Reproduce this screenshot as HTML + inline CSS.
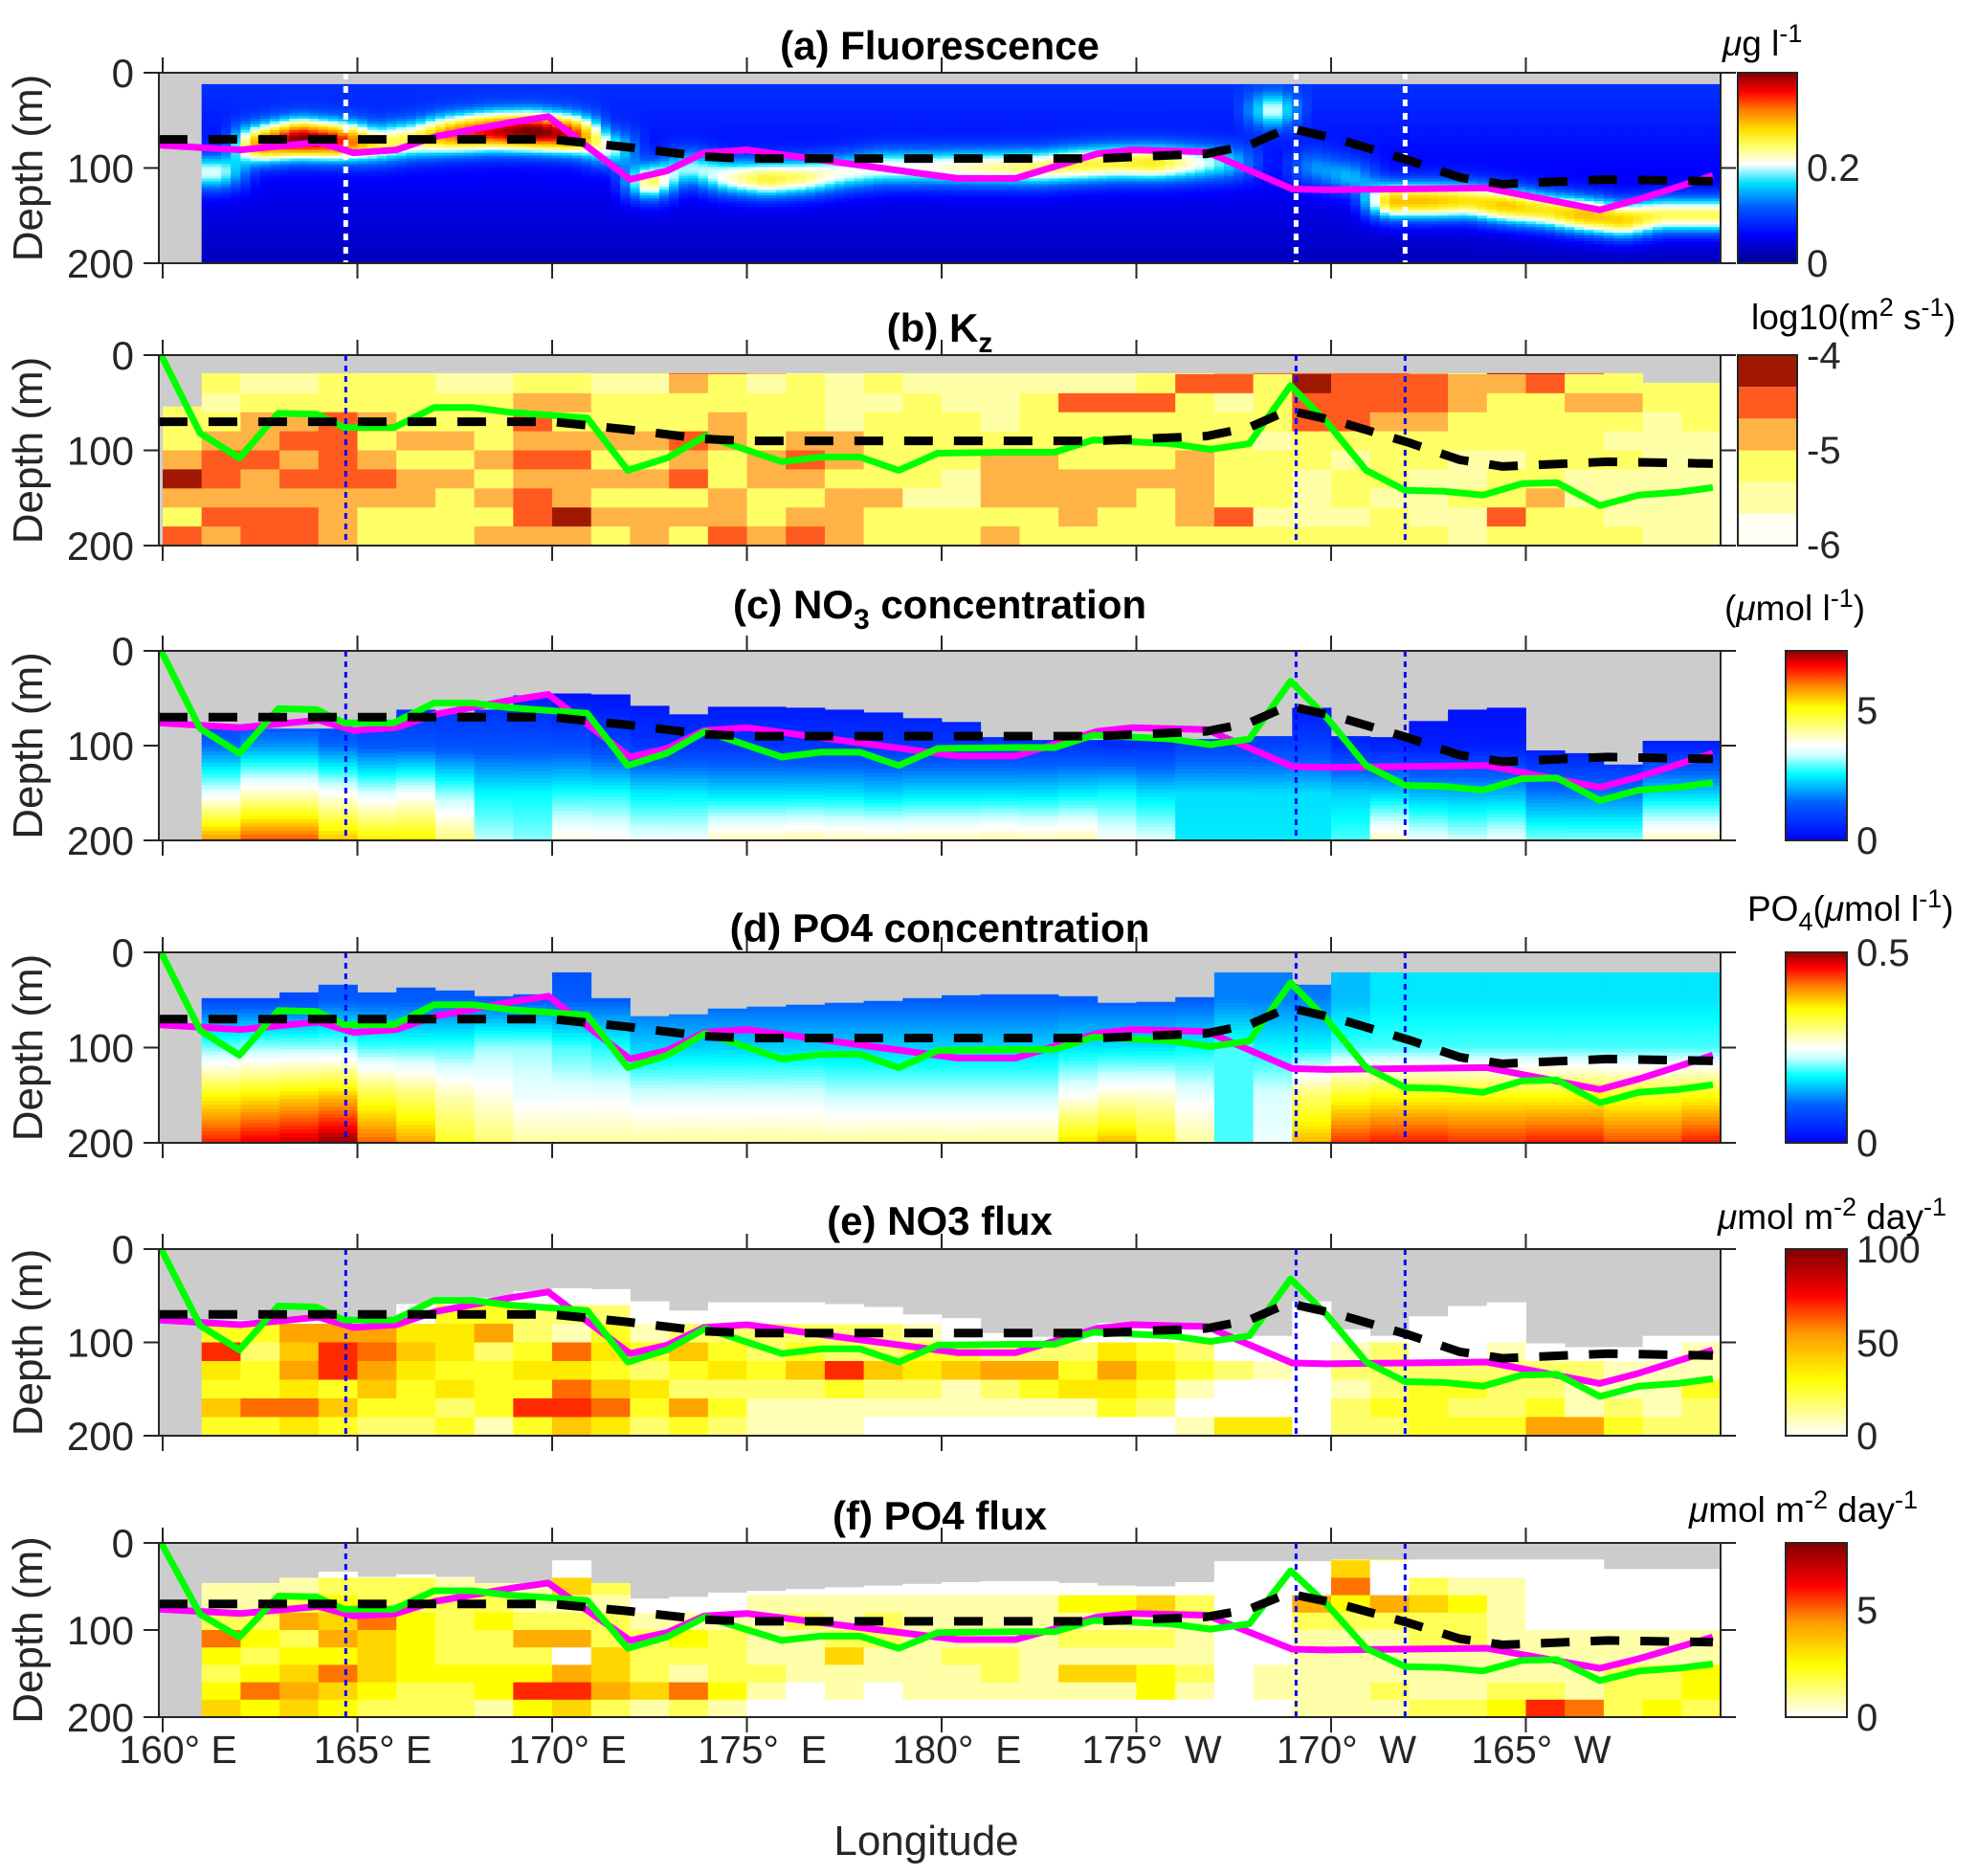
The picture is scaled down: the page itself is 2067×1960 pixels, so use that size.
<!DOCTYPE html>
<html><head><meta charset="utf-8"><style>
html,body{margin:0;padding:0;background:#fff}
svg{display:block;font-family:"Liberation Sans",Arial,sans-serif}
</style></head><body>
<svg id="fig" width="2067" height="1960" viewBox="0 0 2067 1960" xmlns="http://www.w3.org/2000/svg"></svg>
<script>
// ---------- data ----------
const xTickLons=[160,165,170,175,180,185,190,195];
const xTickLabels=["160° E","165° E","170° E","175°  E","180°  E","175°  W","170°  W","165°  W"];
const yTickDepths=[0,100,200];
const dottedLons=[164.7,189.1,191.9];
// green line
const greenLon=[159.96,160.96,161.97,162.97,163.95,164.65,165.94,166.97,167.95,168.9,169.93,170.9,171.94,172.95,173.93,175.9,176.9,177.9,178.9,179.9,181.9,182.9,183.9,185.9,186.9,187.9,188.96,189.9,190.9,191.9,192.9,193.9,194.9,195.8,196.9,197.9,198.9,199.8];
const greenDep=[0,82,108,61,62,76,76,55,55,60,63,66,121,108,85,112,107,107,121,103,102,102,89,93,99,93,32,71,121,142,143,147,135,134,158,147,144,139];
// magenta line
const magLon=[159.9,162,164,164.9,166,167,168.95,169.9,172,172.95,173.9,175,180.4,181.9,184,184.9,186.8,189,189.9,194,196.9,197.9,199.8];
const magDep=[76,81,73,84,81,67,52,46,112,103,84,81,111,111,85,81,83,122,123,121,144,133,108];
// black dashed line
const dashLon=[159.9,170,171.9,173.9,175,184,186.8,187.9,188.9,190.2,192,193.3,194.4,197.1,199.8];
const dashDep=[70,70,78,88,90,90,85,76,58,70,92,110,117,112,114];

// (a) fluorescence: per column 0..39 (lon 160+i)
const fluDcm=[0,105,75,70,72,75,70,65,62,62,65,80,115,100,110,112,110,105,100,100,100,100,100,97,95,95,95,95,40,100,110,135,135,135,140,145,150,155,150,150];
const fluPeak=[0,0.14,0.26,0.34,0.3,0.18,0.18,0.26,0.3,0.34,0.3,0.14,0.2,0.13,0.16,0.2,0.18,0.15,0.15,0.15,0.16,0.17,0.18,0.19,0.19,0.2,0.15,0.1,0.13,0.08,0.1,0.24,0.24,0.22,0.24,0.22,0.25,0.24,0.2,0.2];

// (b) Kz: grey-top depth and level codes per 20 m bin (0 white .. 5 dark red)
const kzTop=[54,19,19,19,19,19,19,19,19,19,19,19,19,19,19,19,19,19,19,19,19,19,19,19,19,19,19,19,19,19,19,19,19,19,19,19,19,19,29,29];
const kzLevels=["2222235324","2212344343","2123343344","2123434344","2224444333","1223234322","1222323322","1122323222","1122232323","1234343443","1232343353","2122323232","2122323233","4322434232","4223322334","3122233223","1222343234","1111332333","1212222322","1122222122","1112221122","1111233323","1122233322","1142223332","1142223322","1242223222","2422233332","3412222242","4222122212","4544221112","4444212212","4443222122","3443221112","2332211211","5322212242","5422222322","4232221122","2232121112","1221111111","1222111111"];

// (c) NO3: grey-top depth and values at 0,50,100,150,200 m
const no3Top=[200,82,82,82,82,84,62,65,62,47,45,46,58,67,59,59,60,62,65,71,75,91,94,94,94,94,93,93,90,60,90,91,74,62,60,105,108,120,95,95];
const no3Prof=[[0,0,0,0,0],[0.5,0.5,1.5,3.4,5.8],[0.5,0.5,1.8,3.9,6.2],[0.5,0.5,1.8,3.9,6.2],[0.5,0.5,1.5,3.6,5.5],[0.5,0.5,1.3,3.3,5.2],[0.5,0.6,1.3,3.5,5.2],[0.5,0.6,1.2,3.0,4.4],[0.5,0.6,1.2,2.5,3.2],[0.2,0.5,1.2,2.5,3.0],[0.2,0.3,1.2,2.6,3.8],[0.2,0.3,1.0,2.6,3.7],[0.2,0.3,0.8,2.4,3.5],[0.2,0.3,0.8,2.4,3.5],[0.2,0.3,0.8,2.3,4.0],[0.2,0.3,0.8,2.3,4.0],[0.2,0.3,0.8,2.3,4.1],[0.2,0.3,0.8,2.3,4.0],[0.2,0.3,0.8,2.2,4.0],[0.2,0.3,0.8,2.3,4.0],[0.2,0.3,0.8,2.3,4.0],[0.2,0.3,0.8,2.3,4.1],[0.2,0.3,0.8,2.3,4.0],[0.2,0.3,0.8,2.4,4.1],[0.2,0.2,0.7,2.5,3.6],[0.2,0.2,0.7,2.3,3.4],[0.2,0.2,1.0,2.3,2.4],[0.2,0.2,1.0,2.3,2.4],[0.2,0.2,1.0,2.3,2.4],[0.2,0.2,1.0,2.3,2.4],[0.2,0.2,0.6,2.2,2.8],[0.2,0.2,0.5,2.2,4.0],[0.2,0.2,0.4,2.0,3.5],[0.2,0.2,0.4,2.0,3.3],[0.2,0.2,0.4,2.0,3.5],[0.2,0.2,0.3,1.6,3.0],[0.2,0.2,0.3,1.6,3.0],[0.2,0.2,0.3,1.6,3.0],[0.2,0.2,0.5,2.2,4.0],[0.2,0.2,0.5,2.2,4.0]];

// (d) PO4
const po4Top=[200,48,48,42,34,42,37,40,46,44,21,48,67,65,59,57,55,53,51,48,45,44,44,46,53,52,47,21,21,34,21,21,21,21,21,21,21,21,21,21];
const po4Prof=[[0,0,0,0,0],[0.08,0.08,0.21,0.36,0.47],[0.08,0.08,0.22,0.37,0.49],[0.08,0.08,0.22,0.38,0.5],[0.08,0.1,0.22,0.39,0.52],[0.08,0.1,0.2,0.34,0.44],[0.08,0.1,0.2,0.32,0.41],[0.08,0.1,0.2,0.29,0.35],[0.08,0.1,0.22,0.27,0.32],[0.08,0.1,0.22,0.25,0.3],[0.08,0.1,0.2,0.25,0.3],[0.08,0.1,0.19,0.25,0.3],[0.1,0.1,0.16,0.24,0.3],[0.1,0.1,0.16,0.24,0.3],[0.1,0.1,0.16,0.24,0.3],[0.1,0.1,0.16,0.24,0.3],[0.1,0.1,0.16,0.24,0.3],[0.1,0.1,0.16,0.23,0.3],[0.1,0.1,0.16,0.23,0.3],[0.1,0.1,0.16,0.23,0.3],[0.1,0.1,0.16,0.23,0.3],[0.1,0.1,0.16,0.23,0.3],[0.1,0.1,0.16,0.23,0.3],[0.1,0.1,0.17,0.26,0.38],[0.1,0.1,0.17,0.28,0.4],[0.1,0.1,0.17,0.28,0.36],[0.1,0.1,0.18,0.25,0.3],[0.12,0.12,0.2,0.2,0.2],[0.12,0.12,0.18,0.24,0.25],[0.1,0.12,0.18,0.32,0.4],[0.15,0.15,0.2,0.35,0.46],[0.17,0.17,0.2,0.36,0.47],[0.17,0.17,0.2,0.36,0.47],[0.17,0.17,0.2,0.36,0.46],[0.17,0.17,0.2,0.36,0.46],[0.17,0.17,0.2,0.36,0.47],[0.17,0.17,0.2,0.36,0.47],[0.17,0.17,0.2,0.35,0.45],[0.17,0.17,0.2,0.35,0.45],[0.17,0.17,0.2,0.36,0.47]];

// (e) NO3 flux: grey top + 0-9 codes per 20 m bin
const no3fTop=[200,76,76,76,76,79,59,59,52,45,42,43,56,66,57,57,57,59,62,70,74,90,94,92,79,84,84,91,93,56,86,93,72,61,57,101,105,105,93,93];
const no3fLevels=["0000000000","0000384353","0000323373","0000656474","0000688353","0000676532","0000454332","0003443423","0003623331","0002234383","0002174785","0002343574","0000132432","0000253263","0000234232","0000223211","0000235211","0000228311","0000225210","0000134210","0000035110","0000026210","0000026310","0000023410","0000046430","0000034320","0000023101","0000002004","0000001004","0000000000","0000012122","0000022232","0000002333","0000002323","0000012223","0000002236","0000002116","0000001123","0000001112","0000011322"];

// (f) PO4 flux
const po4fTop=[200,46,46,40,33,39,36,39,46,46,20,46,64,62,57,55,53,51,49,47,45,44,44,46,49,50,45,21,21,21,19,19,19,19,19,19,19,30,30,30];
const po4fLevels=["0000000000","0011263234","0011232363","0012523454","0023453643","0022644432","0022333322","0012222322","0012322331","0011252373","0041250574","0021224452","0000122241","0000132162","0000122231","0001111210","0001211100","0001124110","0001221100","0001111110","0001112110","0001112210","0001111110","0003121410","0003121410","0004121330","0002111210","0000000000","1000000110","0005211111","2463211111","3005211121","0024221112","0013221112","0011111123","0000011127","0000011116","0000011222","0000011223","0000011332"];

// ---------- helpers ----------
const NS="http://www.w3.org/2000/svg";
const svg=document.getElementById('fig');
function mk(tag,attrs,parent){const e=document.createElementNS(NS,tag);for(const k in attrs)e.setAttribute(k,attrs[k]);(parent||svg).appendChild(e);return e;}
const X0=166,X1=1798;
function X(lon){return 170+(lon-160)*40.7;}
const panels=[{top:76,h:199},{top:371,h:199},{top:680,h:198},{top:995,h:199},{top:1305,h:195},{top:1612,h:182}];
function Y(p,d){return p.top+d/200*p.h;}
function hex(c){return [parseInt(c.substr(1,2),16),parseInt(c.substr(3,2),16),parseInt(c.substr(5,2),16)];}
function cmap(stops,t){t=Math.max(0,Math.min(1,t));for(let i=1;i<stops.length;i++){if(t<=stops[i][0]){const a=stops[i-1],b=stops[i];const f=(t-a[0])/(b[0]-a[0]||1);const ca=hex(a[1]),cb=hex(b[1]);return 'rgb('+ca.map((v,k)=>Math.round(v+(cb[k]-v)*f)).join(',')+')';}}return stops[stops.length-1][1];}
const mapA=[[0,'#00008f'],[0.15,'#0000ff'],[0.3,'#0060ff'],[0.42,'#00e0ff'],[0.48,'#c0ffff'],[0.52,'#ffffff'],[0.6,'#ffff60'],[0.68,'#ffe000'],[0.8,'#ff8000'],[0.9,'#ff0000'],[1,'#800000']];
const mapCD=[[0,'#0000ff'],[0.2,'#0060ff'],[0.35,'#00ffff'],[0.45,'#d0ffff'],[0.5,'#ffffff'],[0.6,'#ffff80'],[0.7,'#ffff00'],[0.82,'#ff8000'],[0.92,'#ff0000'],[1,'#900000']];
const mapHot=[[0,'#ffffff'],[0.3,'#ffff00'],[0.55,'#ff9900'],[0.75,'#ff0000'],[1,'#800000']];
const kzColors=['#fffff4','#ffffa8','#ffff66','#ffb347','#ff5a1f','#a01800'];
function colX(i){return [Math.max(X0,X(160+i)),Math.min(X1,X(161+i))];}

function drawPanel(idx,name,fill){
  const p=panels[idx];
  const g=mk('g',{});
  
  
  const bg=mk('rect',{x:X0,y:p.top,width:X1-X0,height:p.h,fill:'#cccccc'},g);
  
  
  const hm=mk('g',{},g);
  
  
  fill(p,hm);
  return g;
}
function cell(g,x0,x1,y0,y1,c){mk('rect',{x:x0.toFixed(1),y:y0.toFixed(1),width:(x1-x0+0.4).toFixed(1),height:(y1-y0+0.4).toFixed(1),fill:c},g);}

// (a)
drawPanel(0,'fluorescence',function(p,g){
  const sub=4;
  function val(ci,d){ if(ci<1)ci=1; const bgv=0.095-0.07*(d/200); const pk=fluPeak[ci]*Math.exp(-Math.pow((d-fluDcm[ci])/20,2)); return bgv+pk;}
  for(let i=1;i<40;i++){
    const [xa,xb]=colX(i);
    for(let s=0;s<sub;s++){
      const f=(s+0.5)/sub;
      const lonc=i+f;
      const i0=Math.floor(lonc-0.5), fr=lonc-0.5-i0;
      const ia=Math.max(1,Math.min(39,i0)), ib=Math.max(1,Math.min(39,i0+1));
      const x0=xa+(xb-xa)*s/sub, x1=xa+(xb-xa)*(s+1)/sub;
      for(let d=12;d<200;d+=3){
        const v=val(ia,d+1.5)*(1-fr)+val(ib,d+1.5)*fr;
        cell(g,x0,x1,Y(p,d),Y(p,Math.min(200,d+3)),cmap(mapA,v/0.4));
      }
    }
  }
});
// (b)
drawPanel(1,'kz',function(p,g){
  for(let i=0;i<40;i++){const [xa,xb]=colX(i);
    for(let b=0;b<10;b++){const d0=Math.max(b*20,kzTop[i]),d1=(b+1)*20; if(d1<=d0)continue;
      cell(g,xa,xb,Y(p,d0),Y(p,d1),kzColors[+kzLevels[i][b]]);}}
});
function profPanel(idx,name,tops,prof,vmax){
  drawPanel(idx,name,function(p,g){
    for(let i=0;i<40;i++){if(tops[i]>=200)continue;const [xa,xb]=colX(i);
      for(let d=tops[i];d<200;d+=4){const dm=Math.min(199.9,d+2);const k=Math.floor(dm/50),f=(dm-k*50)/50;
        const v=prof[i][k]*(1-f)+prof[i][k+1]*f;
        cell(g,xa,xb,Y(p,d),Y(p,Math.min(200,d+4)),cmap(mapCD,v/vmax));}}
  });
}
profPanel(2,'no3-concentration',no3Top,no3Prof,7.2);
profPanel(3,'po4-concentration',po4Top,po4Prof,0.52);
function levPanel(idx,name,tops,levels,scale){
  drawPanel(idx,name,function(p,g){
    for(let i=0;i<40;i++){if(tops[i]>=200)continue;const [xa,xb]=colX(i);
      for(let b=0;b<10;b++){const d0=Math.max(b*20,tops[i]),d1=(b+1)*20;if(d1<=d0)continue;
        cell(g,xa,xb,Y(p,d0),Y(p,d1),cmap(mapHot,(+levels[i][b])/scale));}}
  });
}
levPanel(4,'no3-flux',no3fTop,no3fLevels,11.5);
levPanel(5,'po4-flux',po4fTop,po4fLevels,10);

// lines
function polyline(p,lons,deps,attrs,name){
  const pts=lons.map((l,k)=>X(l).toFixed(1)+','+Y(p,deps[k]).toFixed(1)).join(' ');
  const e=mk('polyline',Object.assign({points:pts,fill:'none'},attrs));
  
  
  return e;
}
panels.forEach((p,idx)=>{
  dottedLons.forEach((l,k)=>{
    const e=mk('line',{x1:X(l),x2:X(l),y1:p.top,y2:p.top+p.h,stroke:idx==0?'#ffffff':'#0000ff','stroke-width':idx==0?5:3,'stroke-dasharray':idx==0?'7 7':'6 5'});
    
    
  });
  if(idx!==1) polyline(p,magLon,magDep,{stroke:'#ff00ff','stroke-width':7,'stroke-linejoin':'round'},'magenta-line');
  if(idx!==0) polyline(p,greenLon,greenDep,{stroke:'#00ff00','stroke-width':7,'stroke-linejoin':'round'},'green-line');
  polyline(p,dashLon,dashDep,{stroke:'#000000','stroke-width':9,'stroke-dasharray':'30 22'},'mixed-layer-dashed-line');
  const box=mk('rect',{x:X0,y:p.top,width:X1-X0,height:p.h,fill:'none',stroke:'#262626','stroke-width':2});
  
  
  xTickLons.forEach(l=>{
    mk('line',{x1:X(l),x2:X(l),y1:p.top,y2:p.top-16,stroke:'#262626','stroke-width':2});
    mk('line',{x1:X(l),x2:X(l),y1:p.top+p.h,y2:p.top+p.h+16,stroke:'#262626','stroke-width':2});
  });
  yTickDepths.forEach(d=>{
    mk('line',{x1:X0,x2:X0-16,y1:Y(p,d),y2:Y(p,d),stroke:'#262626','stroke-width':2});
    mk('line',{x1:X1,x2:X1+16,y1:Y(p,d),y2:Y(p,d),stroke:'#262626','stroke-width':2});
    const t=mk('text',{x:140,y:Y(p,d)+15,'text-anchor':'end','font-size':42,fill:'#262626'});
    t.textContent=d;
    
    
  });
  const yt=mk('text',{x:0,y:0,transform:'translate(44,'+(p.top+p.h/2)+') rotate(-90)','text-anchor':'middle','font-size':44,fill:'#262626'});
  yt.textContent='Depth (m)';
  
  
});
xTickLons.forEach((l,k)=>{
  const t=mk('text',{x:X(l)+16,y:1842,'text-anchor':'middle','font-size':41,fill:'#262626'});
  t.style.whiteSpace='pre';
  t.textContent=xTickLabels[k];
  
  
});
</script>
<svg style="position:absolute;left:0;top:0" width="2067" height="1960" font-family="Liberation Sans, Arial, sans-serif">
<defs>
<linearGradient id="cbA" x1="0" y1="1" x2="0" y2="0"><stop offset="0" stop-color="#00008f"/><stop offset="0.15" stop-color="#0000ff"/><stop offset="0.3" stop-color="#0060ff"/><stop offset="0.42" stop-color="#00e0ff"/><stop offset="0.52" stop-color="#ffffff"/><stop offset="0.62" stop-color="#ffff60"/><stop offset="0.7" stop-color="#ffe000"/><stop offset="0.8" stop-color="#ff8000"/><stop offset="0.9" stop-color="#ff0000"/><stop offset="1" stop-color="#800000"/></linearGradient>
<linearGradient id="cbCD" x1="0" y1="1" x2="0" y2="0"><stop offset="0" stop-color="#0000ff"/><stop offset="0.2" stop-color="#0060ff"/><stop offset="0.35" stop-color="#00ffff"/><stop offset="0.45" stop-color="#d0ffff"/><stop offset="0.5" stop-color="#ffffff"/><stop offset="0.6" stop-color="#ffff80"/><stop offset="0.7" stop-color="#ffff00"/><stop offset="0.82" stop-color="#ff8000"/><stop offset="0.92" stop-color="#ff0000"/><stop offset="1" stop-color="#900000"/></linearGradient>
<linearGradient id="cbHot" x1="0" y1="1" x2="0" y2="0"><stop offset="0" stop-color="#ffffff"/><stop offset="0.3" stop-color="#ffff00"/><stop offset="0.55" stop-color="#ff9900"/><stop offset="0.75" stop-color="#ff0000"/><stop offset="1" stop-color="#800000"/></linearGradient>
</defs>
<g font-weight="bold" font-size="42" fill="#000" text-anchor="middle">
<text x="982" y="62">(a) Fluorescence</text>
<text x="982" y="357">(b) K<tspan font-size="30" dy="11">z</tspan></text>
<text x="982" y="646">(c) NO<tspan font-size="30" dy="11">3</tspan><tspan dy="-11"> concentration</tspan></text>
<text x="982" y="984">(d) PO4 concentration</text>
<text x="982" y="1290">(e) NO3 flux</text>
<text x="982" y="1598">(f) PO4 flux</text>
</g>
<g><rect x="1816" y="76" width="62" height="199" fill="url(#cbA)" stroke="#262626" stroke-width="2"/></g>
<g>
<rect x="1816" y="371" width="62" height="33.2" fill="#a01800"/><rect x="1816" y="404.2" width="62" height="33.2" fill="#ff5a1f"/><rect x="1816" y="437.3" width="62" height="33.2" fill="#ffb347"/><rect x="1816" y="470.5" width="62" height="33.2" fill="#ffff66"/><rect x="1816" y="503.7" width="62" height="33.2" fill="#ffffa8"/><rect x="1816" y="536.8" width="62" height="33.2" fill="#fffff4"/>
<rect x="1816" y="371" width="62" height="199" fill="none" stroke="#262626" stroke-width="2"/></g>
<g><rect x="1866" y="680" width="64" height="198" fill="url(#cbCD)" stroke="#262626" stroke-width="2"/></g>
<g><rect x="1866" y="995" width="64" height="199" fill="url(#cbCD)" stroke="#262626" stroke-width="2"/></g>
<g><rect x="1866" y="1305" width="64" height="195" fill="url(#cbHot)" stroke="#262626" stroke-width="2"/></g>
<g><rect x="1866" y="1612" width="64" height="182" fill="url(#cbHot)" stroke="#262626" stroke-width="2"/></g>
<g font-size="40" fill="#262626">
<text x="1888" y="289">0</text><text x="1888" y="189">0.2</text>
<text x="1888" y="385">-4</text><text x="1888" y="484">-5</text><text x="1888" y="583">-6</text>
<text x="1940" y="892">0</text><text x="1940" y="756">5</text>
<text x="1940" y="1208">0</text><text x="1940" y="1009">0.5</text>
<text x="1940" y="1514">0</text><text x="1940" y="1417">50</text><text x="1940" y="1319">100</text>
<text x="1940" y="1808">0</text><text x="1940" y="1696">5</text>
</g>
<g font-size="37" fill="#000">
<text x="1800" y="58"><tspan font-style="italic">μ</tspan>g l<tspan font-size="27" dy="-14">-1</tspan></text>
<text x="1830" y="344">log10(m<tspan font-size="27" dy="-14">2</tspan><tspan dy="14"> s</tspan><tspan font-size="27" dy="-14">-1</tspan><tspan dy="14">)</tspan></text>
<text x="1802" y="648">(<tspan font-style="italic">μ</tspan>mol l<tspan font-size="27" dy="-14">-1</tspan><tspan dy="14">)</tspan></text>
<text x="1826" y="962">PO<tspan font-size="27" dy="10">4</tspan><tspan dy="-10">(</tspan><tspan font-style="italic">μ</tspan>mol l<tspan font-size="27" dy="-14">-1</tspan><tspan dy="14">)</tspan></text>
<text x="1795" y="1284"><tspan font-style="italic">μ</tspan>mol m<tspan font-size="27" dy="-14">-2</tspan><tspan dy="14"> day</tspan><tspan font-size="27" dy="-14">-1</tspan></text>
<text x="1765" y="1590"><tspan font-style="italic">μ</tspan>mol m<tspan font-size="27" dy="-14">-2</tspan><tspan dy="14"> day</tspan><tspan font-size="27" dy="-14">-1</tspan></text>
</g>
<text x="968" y="1938" font-size="44" fill="#262626" text-anchor="middle">Longitude</text>
</svg>
</body></html>
